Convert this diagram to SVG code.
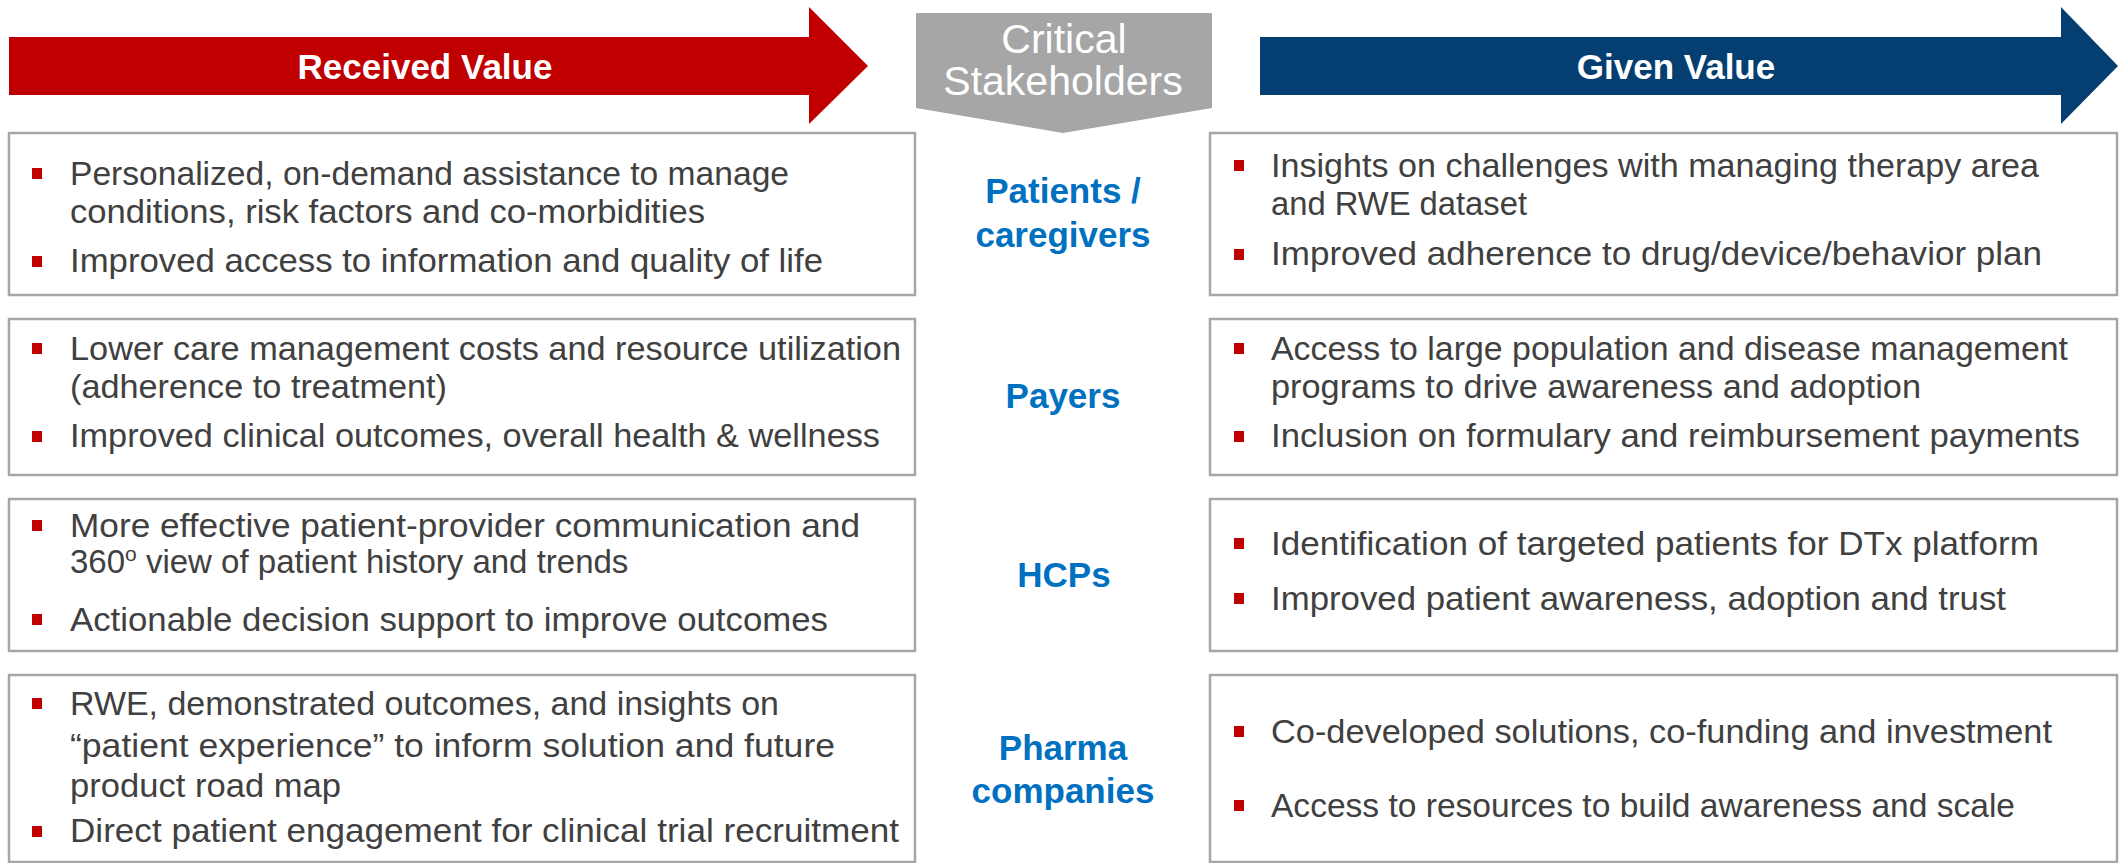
<svg xmlns="http://www.w3.org/2000/svg" width="2123" height="863" viewBox="0 0 2123 863">
<style>
.box{fill:#FFFFFF;stroke:#A6A6A6;stroke-width:2.5}
.t{font-family:"Liberation Sans",Arial,sans-serif;font-size:33px;fill:#404040}
.lbl{font-family:"Liberation Sans",Arial,sans-serif;font-size:35px;font-weight:bold;fill:#0070C0;text-anchor:middle}
.hdr{font-family:"Liberation Sans",Arial,sans-serif;font-size:35px;font-weight:bold;fill:#FFFFFF;text-anchor:middle}
.crit{font-family:"Liberation Sans",Arial,sans-serif;font-size:41px;fill:#FFFFFF;text-anchor:middle}
.b{fill:#C00000}
</style>
<defs>
<rect id="bul" width="10" height="11" class="b"/>
</defs>
<rect width="2123" height="863" fill="#FFFFFF"/>

<g id="received-value">
<polygon points="9,37 809,37 809,7 868,66 809,124 809,95 9,95" fill="#C00000"/>
<text class="hdr" x="425" y="79">Received Value</text>
</g>

<g id="critical-stakeholders">
<polygon points="916,13 1212,13 1212,108 1063,133 916,108" fill="#A6A6A6"/>
<text class="crit" x="1064" y="53">Critical</text>
<text class="crit" x="1063" y="95">Stakeholders</text>
</g>

<g id="given-value">
<polygon points="1260,37 2061,37 2061,7 2118,66 2061,124 2061,95 1260,95" fill="#053F72"/>
<text class="hdr" x="1676" y="79">Given Value</text>
</g>

<g id="connectors"></g>

<!-- Row 1 -->
<g id="received-patients">
<rect class="box" x="9" y="133" width="906" height="162"/>
<use href="#bul" x="32" y="168"/>
<text class="t" x="70" y="185" textLength="719" lengthAdjust="spacingAndGlyphs">Personalized, on-demand assistance to manage</text>
<text class="t" x="70" y="223" textLength="635" lengthAdjust="spacingAndGlyphs">conditions, risk factors and co-morbidities</text>
<use href="#bul" x="32" y="256"/>
<text class="t" x="70" y="272" textLength="753" lengthAdjust="spacingAndGlyphs">Improved access to information and quality of life</text>
</g>
<g id="stakeholder-patients">
<text class="lbl" x="1063" y="203">Patients /</text>
<text class="lbl" x="1063" y="247">caregivers</text>
</g>
<g id="given-patients">
<rect class="box" x="1210" y="133" width="907" height="162"/>
<use href="#bul" x="1234" y="160"/>
<text class="t" x="1271" y="177" textLength="768" lengthAdjust="spacingAndGlyphs">Insights on challenges with managing therapy area</text>
<text class="t" x="1271" y="215" textLength="256" lengthAdjust="spacingAndGlyphs">and RWE dataset</text>
<use href="#bul" x="1234" y="249"/>
<text class="t" x="1271" y="265" textLength="771" lengthAdjust="spacingAndGlyphs">Improved adherence to drug/device/behavior plan</text>
</g>

<!-- Row 2 -->
<g id="received-payers">
<rect class="box" x="9" y="319" width="906" height="156"/>
<use href="#bul" x="32" y="343"/>
<text class="t" x="70" y="360" textLength="831" lengthAdjust="spacingAndGlyphs">Lower care management costs and resource utilization</text>
<text class="t" x="70" y="398" textLength="377" lengthAdjust="spacingAndGlyphs">(adherence to treatment)</text>
<use href="#bul" x="32" y="431"/>
<text class="t" x="70" y="447" textLength="810" lengthAdjust="spacingAndGlyphs">Improved clinical outcomes, overall health &amp; wellness</text>
</g>
<g id="stakeholder-payers">
<text class="lbl" x="1063" y="408">Payers</text>
</g>
<g id="given-payers">
<rect class="box" x="1210" y="319" width="907" height="156"/>
<use href="#bul" x="1234" y="343"/>
<text class="t" x="1271" y="360" textLength="797" lengthAdjust="spacingAndGlyphs">Access to large population and disease management</text>
<text class="t" x="1271" y="398" textLength="650" lengthAdjust="spacingAndGlyphs">programs to drive awareness and adoption</text>
<use href="#bul" x="1234" y="431"/>
<text class="t" x="1271" y="447" textLength="809" lengthAdjust="spacingAndGlyphs">Inclusion on formulary and reimbursement payments</text>
</g>

<!-- Row 3 -->
<g id="received-hcps">
<rect class="box" x="9" y="499" width="906" height="152"/>
<use href="#bul" x="32" y="520"/>
<text class="t" x="70" y="537" textLength="790" lengthAdjust="spacingAndGlyphs">More effective patient-provider communication and</text>
<text class="t" x="70" y="573">360<tspan dy="-12" font-size="21">o</tspan><tspan dy="12"> view of patient history and trends</tspan></text>
<use href="#bul" x="32" y="614"/>
<text class="t" x="70" y="631" textLength="758" lengthAdjust="spacingAndGlyphs">Actionable decision support to improve outcomes</text>
</g>
<g id="stakeholder-hcps">
<text class="lbl" x="1064" y="587">HCPs</text>
</g>
<g id="given-hcps">
<rect class="box" x="1210" y="499" width="907" height="152"/>
<use href="#bul" x="1234" y="538"/>
<text class="t" x="1271" y="555" textLength="768" lengthAdjust="spacingAndGlyphs">Identification of targeted patients for DTx platform</text>
<use href="#bul" x="1234" y="593"/>
<text class="t" x="1271" y="610" textLength="735" lengthAdjust="spacingAndGlyphs">Improved patient awareness, adoption and trust</text>
</g>

<!-- Row 4 -->
<g id="received-pharma">
<rect class="box" x="9" y="675" width="906" height="187"/>
<use href="#bul" x="32" y="698"/>
<text class="t" x="70" y="715" textLength="709" lengthAdjust="spacingAndGlyphs">RWE, demonstrated outcomes, and insights on</text>
<text class="t" x="70" y="757" textLength="765" lengthAdjust="spacingAndGlyphs">“patient experience” to inform solution and future</text>
<text class="t" x="70" y="797" textLength="271" lengthAdjust="spacingAndGlyphs">product road map</text>
<use href="#bul" x="32" y="826"/>
<text class="t" x="70" y="842" textLength="829" lengthAdjust="spacingAndGlyphs">Direct patient engagement for clinical trial recruitment</text>
</g>
<g id="stakeholder-pharma">
<text class="lbl" x="1063" y="760">Pharma</text>
<text class="lbl" x="1063" y="803">companies</text>
</g>
<g id="given-pharma">
<rect class="box" x="1210" y="675" width="907" height="187"/>
<use href="#bul" x="1234" y="726"/>
<text class="t" x="1271" y="743" textLength="781" lengthAdjust="spacingAndGlyphs">Co-developed solutions, co-funding and investment</text>
<use href="#bul" x="1234" y="800"/>
<text class="t" x="1271" y="817" textLength="744" lengthAdjust="spacingAndGlyphs">Access to resources to build awareness and scale</text>
</g>
</svg>
